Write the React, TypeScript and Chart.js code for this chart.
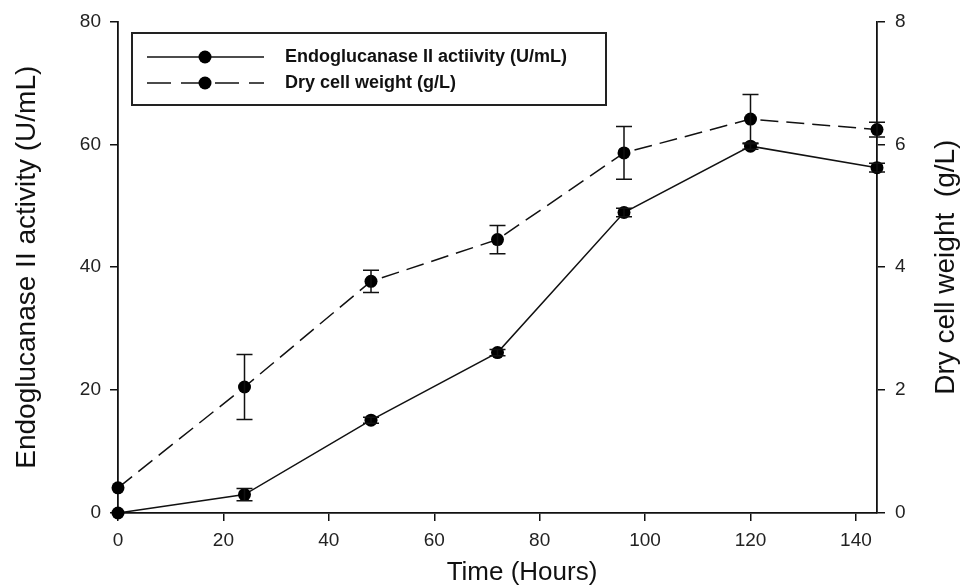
import React, { useEffect, useRef } from 'react';
import { Chart, registerables } from 'chart.js';

Chart.register(...registerables);

const hours = [0, 24, 48, 72, 96, 120, 144];
const activity = [0, 3, 15.1, 26.1, 48.9, 59.7, 56.2];
const activityErr = [0, 1, 0.5, 0.5, 0.7, 0.5, 0.7];
const dcw = [0.41, 2.05, 3.77, 4.45, 5.86, 6.41, 6.24];
const dcwErr = [0, 0.53, 0.18, 0.23, 0.43, 0.4, 0.12];
const seriesLabels = ['Endoglucanase II actiivity (U/mL)', 'Dry cell weight (g/L)'];
const xTitle = 'Time (Hours)';
const yTitle = 'Endoglucanase II activity (U/mL)';
const y1Title = 'Dry cell weight  (g/L)';

const FONT = "'Liberation Sans', Arial, sans-serif";

const errorBarPlugin = {
  id: 'errorBars',
  afterDatasetsDraw(chart: any) {
    const ctx = chart.ctx;
    const errs = [activityErr, dcwErr];
    chart.data.datasets.forEach((ds: any, i: number) => {
      const meta = chart.getDatasetMeta(i);
      const scale = chart.scales[ds.yAxisID];
      const err = errs[i];
      ctx.save();
      ctx.strokeStyle = '#111';
      ctx.lineWidth = 1.5;
      meta.data.forEach((pt: any, j: number) => {
        const e = err[j];
        if (!e) return;
        const v = ds.data[j].y;
        const yt = scale.getPixelForValue(v + e);
        const yb = scale.getPixelForValue(v - e);
        const x = pt.x;
        ctx.beginPath();
        ctx.moveTo(x, yt);
        ctx.lineTo(x, yb);
        ctx.moveTo(x - 8, yt);
        ctx.lineTo(x + 8, yt);
        ctx.moveTo(x - 8, yb);
        ctx.lineTo(x + 8, yb);
        ctx.stroke();
      });
      ctx.restore();
    });
  },
};

const extrasPlugin = {
  id: 'extras',
  afterDraw(chart: any) {
    const ctx = chart.ctx;
    const area = chart.chartArea;
    ctx.save();
    // right axis title, rotated reading upward
    ctx.translate(946, (area.top + area.bottom) / 2);
    ctx.rotate(-Math.PI / 2);
    ctx.font = `28px ${FONT}`;
    ctx.fillStyle = '#111';
    ctx.textAlign = 'center';
    ctx.textBaseline = 'middle';
    ctx.fillText(y1Title, 0, 0);
    ctx.restore();

    // x axis title
    ctx.save();
    ctx.font = `26px ${FONT}`;
    ctx.fillStyle = '#111';
    ctx.textAlign = 'center';
    ctx.textBaseline = 'middle';
    ctx.fillText(xTitle, 522, 573);
    ctx.restore();

    // legend
    ctx.save();
    const bx = 132, by = 33, bw = 474, bh = 72;
    ctx.strokeStyle = '#222';
    ctx.lineWidth = 2;
    ctx.strokeRect(bx, by, bw, bh);
    const rows = [57, 83];
    const dashes = [[], [24, 10]];
    rows.forEach((ry, i) => {
      ctx.beginPath();
      ctx.setLineDash(dashes[i]);
      ctx.lineWidth = 1.5;
      ctx.strokeStyle = '#111';
      ctx.moveTo(147, ry);
      ctx.lineTo(264, ry);
      ctx.stroke();
      ctx.setLineDash([]);
      ctx.beginPath();
      ctx.fillStyle = '#000';
      ctx.arc(205, ry, 6.5, 0, Math.PI * 2);
      ctx.fill();
      ctx.font = `bold 18px ${FONT}`;
      ctx.textAlign = 'left';
      ctx.textBaseline = 'middle';
      ctx.fillStyle = '#111';
      ctx.fillText(seriesLabels[i], 285, ry);
    });
    ctx.restore();
  },
};

export default function App() {
  const ref = useRef<HTMLCanvasElement>(null);
  useEffect(() => {
    document.body.style.margin = '0';
    const chart = new Chart(ref.current as HTMLCanvasElement, {
      type: 'line',
      data: {
        datasets: [
          {
            label: seriesLabels[0],
            data: hours.map((h, i) => ({ x: h, y: activity[i] })),
            yAxisID: 'y',
            borderColor: '#111',
            borderWidth: 1.5,
            pointRadius: 6.5,
            pointBackgroundColor: '#000',
            pointBorderColor: '#000',
            pointBorderWidth: 0,
            tension: 0,
            clip: false as any,
          },
          {
            label: seriesLabels[1],
            data: hours.map((h, i) => ({ x: h, y: dcw[i] })),
            yAxisID: 'y1',
            borderColor: '#111',
            borderWidth: 1.5,
            borderDash: [18, 8],
            pointRadius: 6.5,
            pointBackgroundColor: '#000',
            pointBorderColor: '#000',
            pointBorderWidth: 0,
            tension: 0,
            clip: false as any,
          },
        ],
      },
      options: {
        animation: false,
        responsive: true,
        maintainAspectRatio: false,
        layout: { padding: { top: 17, left: 0, right: 0, bottom: 0 } },
        plugins: {
          legend: { display: false },
          tooltip: { enabled: false },
        },
        scales: {
          x: {
            type: 'linear',
            min: 0,
            max: 144,
            afterFit: (s: any) => {
              s.height = 75;
            },
            ticks: {
              stepSize: 20,
              includeBounds: false,
              color: '#222',
              font: { family: FONT, size: 19 },
              padding: 8,
            },
            grid: { drawOnChartArea: false, color: '#111', tickLength: 8, lineWidth: 1.5 },
            border: { color: '#111', width: 1.8 },
            title: { display: false },
          },
          y: {
            position: 'left',
            min: 0,
            max: 80,
            afterFit: (s: any) => {
              s.width = 118;
            },
            ticks: {
              stepSize: 20,
              color: '#222',
              font: { family: FONT, size: 19 },
              padding: 9,
            },
            grid: { drawOnChartArea: false, color: '#111', tickLength: 8, lineWidth: 1.5 },
            border: { color: '#111', width: 1.8 },
            title: {
              display: true,
              text: yTitle,
              color: '#111',
              font: { family: FONT, size: 28 },
              padding: { top: 10, bottom: 0 },
            },
          },
          y1: {
            position: 'right',
            min: 0,
            max: 8,
            afterFit: (s: any) => {
              s.width = 84;
            },
            ticks: {
              stepSize: 2,
              color: '#222',
              font: { family: FONT, size: 19 },
              padding: 10,
            },
            grid: { drawOnChartArea: false, color: '#111', tickLength: 8, lineWidth: 1.5 },
            border: { color: '#111', width: 1.8 },
            title: { display: false },
          },
        },
      },
      plugins: [errorBarPlugin, extrasPlugin],
    });
    return () => chart.destroy();
  }, []);
  return (
    <div style={{ position: 'relative', width: 961, height: 588 }}>
      <canvas ref={ref} />
    </div>
  );
}
